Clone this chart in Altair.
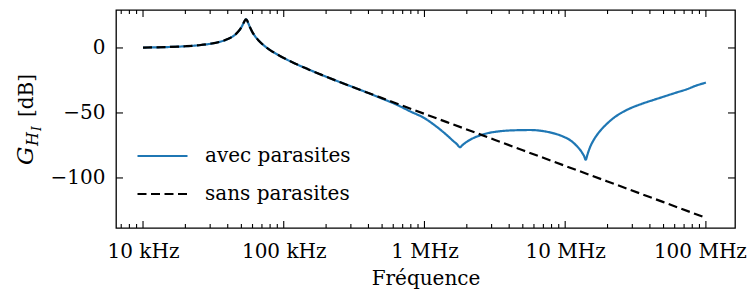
import altair as alt
import pandas as pd

# ---- data ----
series_names = ["avec parasites", "sans parasites"]
series_colors = ["#1f77b4", "#000000"]

# "sans parasites" (dashed)
freq_sans = [10000, 15000, 20000, 25000, 30000, 35000, 40000, 44000, 47000, 50000,
             52000, 53000, 54000, 55000, 56000, 58000, 60000, 62000, 66000, 70000,
             80000, 90000, 100000, 120000, 150000, 200000, 300000, 400000, 500000,
             1000000, 2000000, 5000000, 10000000, 20000000, 50000000, 100000000]
db_sans = [0.3, 0.7, 1.3, 2.1, 3.2, 4.7, 6.8, 9.3, 12.0, 15.9,
           19.5, 21.3, 22.0, 21.0, 19.0, 15.1, 12.0, 9.6, 6.0, 3.2,
           -1.6, -5.0, -7.7, -11.9, -16.5, -22.1, -29.5, -34.7, -38.6,
           -50.7, -62.7, -78.7, -90.7, -102.7, -118.6, -130.7]

# "avec parasites" (solid blue)
freq_avec = [10000, 15000, 20000, 25000, 30000, 35000, 40000, 44000, 47000, 50000,
             52000, 53000, 54000, 55000, 56000, 58000, 60000, 62000, 66000, 70000,
             80000, 90000, 100000, 120000, 150000, 200000, 300000, 400000, 500000,
             630000, 800000, 1000000, 1200000, 1440000, 1600000, 1700000, 1790000,
             1850000, 1950000, 2100000, 2300000, 2500000, 2800000, 3300000, 4000000,
             5000000, 5600000, 7000000, 8500000, 9700000, 10800000, 12100000,
             13000000, 13600000, 14000000, 14400000, 15000000, 16000000, 17500000,
             19500000, 22000000, 25000000, 28000000, 35000000, 42400000, 50000000,
             63000000, 73100000, 85000000, 100000000]
db_avec = [0.3, 0.7, 1.3, 2.1, 3.2, 4.7, 6.8, 9.3, 12.0, 15.9,
           19.5, 21.3, 22.0, 21.0, 19.0, 15.1, 12.0, 9.6, 6.0, 3.2,
           -1.6, -5.0, -7.7, -11.9, -16.5, -22.1, -29.5, -34.7, -39.0,
           -43.5, -49.0, -54.0, -60.0, -67.0, -71.5, -74.0, -76.4,
           -75.0, -73.0, -70.8, -68.6, -67.2, -65.6, -64.3, -63.5,
           -63.2, -63.1, -64.0, -66.0, -68.2, -70.8, -75.5,
           -79.5, -83.0, -86.0, -82.0, -76.5, -70.5, -64.5,
           -59.0, -54.0, -50.0, -47.2, -43.0, -40.0, -37.5,
           -34.0, -31.8, -29.0, -26.7]

x_major = [10000, 100000, 1000000, 10000000, 100000000]
x_major_labels = ["10 kHz", "100 kHz", "1 MHz", "10 MHz", "100 MHz"]
x_minor = [7000, 8000, 9000,
           20000, 30000, 40000, 50000, 60000, 70000, 80000, 90000,
           200000, 300000, 400000, 500000, 600000, 700000, 800000, 900000,
           2000000, 3000000, 4000000, 5000000, 6000000, 7000000, 8000000, 9000000,
           20000000, 30000000, 40000000, 50000000, 60000000, 70000000, 80000000, 90000000]
y_ticks = [0, -50, -100]

x_domain = [6427, 161000000]
y_domain = [-138.5, 29.2]

# ---- build tables ----
df = pd.concat([
    pd.DataFrame({"f": freq_avec, "db": db_avec, "series": series_names[0]}),
    pd.DataFrame({"f": freq_sans, "db": db_sans, "series": series_names[1]}),
], ignore_index=True)
df_xmaj = pd.DataFrame({"v": x_major})
df_xmin = pd.DataFrame({"v": x_minor})
df_y = pd.DataFrame({"v": y_ticks})

FONT = "DejaVu Serif"
FS = 20
W, H = 619, 218
MAJ, MIN = 7, 4

label_expr = " : ".join(
    f"datum.value == {v} ? '{t}'" for v, t in zip(x_major, x_major_labels)
) + " : ''"

xscale = alt.Scale(type="log", domain=x_domain, nice=False)
yscale = alt.Scale(domain=y_domain, nice=False, zero=False)

bottom_axis = alt.Axis(values=x_major, labelExpr=label_expr, ticks=False, domain=False,
                       grid=False, labelPadding=13, labelOverlap=False, labelFlush=False,
                       labelOffset={"condition": {"test": f"datum.value == {x_major[-1]}",
                                                  "value": -6}, "value": 0},
                       labelFont=FONT, labelFontSize=FS, labelColor="black",
                       title="Fréquence", titleFont=FONT, titleFontSize=FS,
                       titleFontWeight="normal", titleColor="black", titlePadding=7)
left_axis = alt.Axis(values=y_ticks, ticks=False, domain=False, grid=False,
                     labelPadding=11, labelFont=FONT, labelFontSize=FS,
                     labelColor="black", title=None)

legend = alt.Legend(title=None, orient="none", legendX=20, legendY=135,
                    symbolType="stroke", symbolSize=2500, symbolStrokeWidth=2.2,
                    labelFont=FONT, labelFontSize=FS, labelColor="black",
                    labelOffset=16, rowPadding=16, clipHeight=22)

lines = alt.Chart(df).mark_line(strokeWidth=2.2, interpolate="monotone").encode(
    x=alt.X("f:Q", scale=xscale, axis=bottom_axis),
    y=alt.Y("db:Q", scale=yscale, axis=left_axis),
    color=alt.Color("series:N", scale=alt.Scale(domain=series_names, range=series_colors),
                    legend=legend),
    strokeDash=alt.StrokeDash("series:N",
                              scale=alt.Scale(domain=series_names, range=[[1, 0], [9, 4.5]]),
                              legend=legend),
    detail="series:N",
)


def xticks(data, y0, y1):
    return alt.Chart(data).mark_rule(color="black", strokeWidth=1.1).encode(
        x=alt.X("v:Q", scale=xscale, axis=None), y=alt.value(y0), y2=alt.value(y1))


def yticks(data, x0, x1):
    return alt.Chart(data).mark_rule(color="black", strokeWidth=1.1).encode(
        y=alt.Y("v:Q", scale=yscale, axis=None), x=alt.value(x0), x2=alt.value(x1))


tick_layers = [
    xticks(df_xmaj, H, H - MAJ), xticks(df_xmaj, 0, MAJ),
    xticks(df_xmin, H, H - MIN), xticks(df_xmin, 0, MIN),
    yticks(df_y, 0, MAJ), yticks(df_y, W, W - MAJ),
]

one = pd.DataFrame({"k": [0]})


def title_piece(text, size, italic, x, y):
    return alt.Chart(one).mark_text(
        text=text, font=FONT, fontSize=size, fontStyle="italic" if italic else "normal",
        angle=270, align="left", baseline="alphabetic", color="black"
    ).encode(x=alt.value(x), y=alt.value(y))


title_layers = [
    title_piece("G", 23, True, -83, 155),
    title_piece("H", 16, True, -78, 136),
    title_piece("I", 12, True, -75, 121),
    title_piece("[dB]", FS, False, -83, 107),
]

chart = alt.layer(lines, *tick_layers, *title_layers).resolve_axis(
    x="independent", y="independent"
).properties(
    width=W, height=H,
    padding={"left": 108, "top": 2, "right": 12, "bottom": 62},
    autosize=alt.AutoSizeParams(type="none"),
).configure_view(
    stroke="black", strokeWidth=1.3
).configure_legend(
    labelFont=FONT, labelFontSize=FS, labelColor="black"
)

chart.save("out.html", embed_options={"renderer": "svg", "actions": False})
